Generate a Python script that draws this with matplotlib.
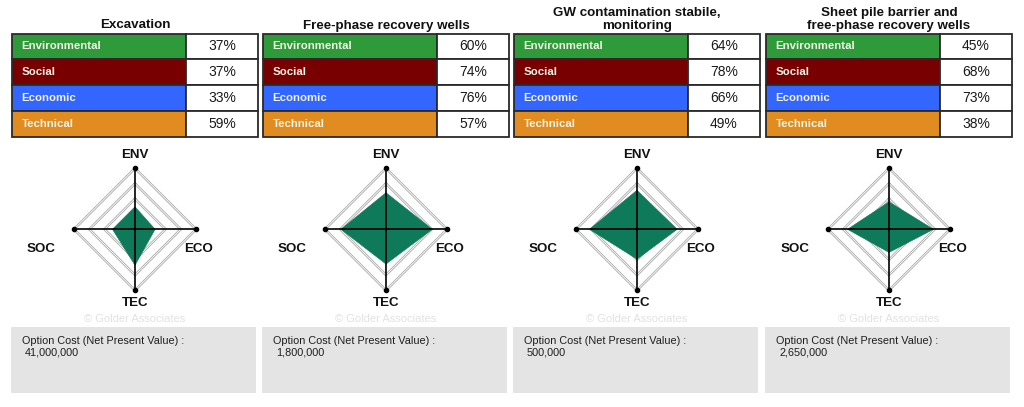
import numpy as np
import matplotlib
matplotlib.use("Agg")
from matplotlib import pyplot as plt

plt.rcParams["font.family"] = ["Liberation Sans", "DejaVu Sans"]

# data
options = [
    "Excavation",
    "Free-phase recovery wells",
    "GW contamination stabile,\nmonitoring",
    "Sheet pile barrier and\nfree-phase recovery wells",
]
criteria = ["Environmental", "Social", "Economic", "Technical"]
axis_labels = ["ENV", "SOC", "ECO", "TEC"]
environmental = [37, 60, 64, 45]
social = [37, 74, 78, 68]
economic = [33, 76, 66, 73]
technical = [59, 57, 49, 38]
costs = ["41,000,000", "1,800,000", "500,000", "2,650,000"]

crit_colors = ["#2f9a3a", "#780000", "#3366ff", "#e08c20"]
fill_color = "#0e7a5a"

W, H = 1024, 407
fig = plt.figure(figsize=(W / 100, H / 100), dpi=100)


def frac(x, y, w, h):
    return [x / W, 1 - (y + h) / H, w / W, h / H]


# angle of each criterion: ENV top, SOC left, ECO right, TEC bottom (clockwise from north)
angles = np.deg2rad([0, 270, 90, 180])
order = [0, 2, 3, 1]  # walk round the diamond
label_offsets = [(0, 9.5), (-24, -14), (1.5, -14), (0, -9.5)]

panel_x = [12, 263, 514, 766]
panel_w = 246

for i, x0 in enumerate(panel_x):
    scores = [environmental[i], social[i], economic[i], technical[i]]
    cx = x0 + panel_w / 2

    # table
    tax = fig.add_axes(frac(x0, 33.5, panel_w, 103.5))
    tax.axis("off")
    cells = [[c, "%d%%" % v] for c, v in zip(criteria, scores)]
    colours = [[c, "white"] for c in crit_colors]
    tab = tax.table(cellText=cells, cellColours=colours,
                    colWidths=[174 / 246, 72 / 246], bbox=[0, 0, 1, 1])
    tab.auto_set_font_size(False)
    for (r, c), cell in tab.get_celld().items():
        cell.set_edgecolor("#2a2a2a")
        cell.set_linewidth(1.3)
        if c == 0:
            cell._loc = "left"
            cell.PAD = 0.055
            cell.get_text().set_ha("left")
            cell.get_text().set_color("#f3f3e6")
            cell.get_text().set_fontweight("bold")
            cell.get_text().set_fontsize(8.2)
        else:
            cell._loc = "center"
            cell.get_text().set_ha("center")
            cell.get_text().set_color("#1a1a1a")
            cell.get_text().set_fontsize(10)
    tax.set_title(options[i], fontsize=9.6, fontweight="bold", pad=3.6,
                  linespacing=1.05, color="#111111")

    # radar
    R = 61
    pax = fig.add_axes(frac(cx - R, 229.3 - R, 2 * R, 2 * R), projection="polar")
    pax.set_theta_zero_location("N")
    pax.set_theta_direction(-1)
    pax.set_ylim(0, 100)
    pax.grid(False)
    pax.set_xticks([])
    pax.set_yticks([])
    pax.spines["polar"].set_visible(False)
    pax.patch.set_alpha(0)

    th = np.append(angles[order], angles[order][0])
    for ring in [25, 50, 75, 100]:
        rr = np.full(len(th), ring)
        pax.plot(th, rr, color="#a9a9a9", lw=1.8, zorder=1, clip_on=False)
        pax.plot(th, rr, color="white", lw=0.6, zorder=1.1, clip_on=False)

    vals = np.array(scores)[order]
    pax.fill(th, np.append(vals, vals[0]), color=fill_color, zorder=2, lw=0.4)

    for a in angles:
        pax.plot([a, a], [0, 100], color="black", lw=1.2, zorder=3, clip_on=False)
    pax.plot(angles, [100] * 4, "o", color="black", ms=3, zorder=4, clip_on=False)

    for a, lab, off in zip(angles, axis_labels, label_offsets):
        pax.annotate(lab, xy=(a, 100), xytext=off, textcoords="offset points",
                     ha="center", va="center", fontsize=9.6, fontweight="bold",
                     color="#111111", annotation_clip=False)

    fig.text(cx / W, 1 - 318.5 / H, "\u00a9 Golder Associates", ha="center",
             va="center", fontsize=8, color="#e2e2e2")

    # option cost box
    bax = fig.add_axes(frac(x0 - 1, 327, panel_w - 1, 66))
    bax.set_facecolor("#e4e4e4")
    bax.set_xticks([])
    bax.set_yticks([])
    for s in bax.spines.values():
        s.set_visible(False)
    bax.text(11 / (panel_w - 1), 1 - 13.5 / 66, "Option Cost (Net Present Value) :",
             transform=bax.transAxes, ha="left", va="center", fontsize=7.8,
             color="#1e1e1e")
    bax.text(14 / (panel_w - 1), 1 - 25.5 / 66, costs[i],
             transform=bax.transAxes, ha="left", va="center", fontsize=7.8,
             color="#1e1e1e")

fig.savefig("out.png", dpi=100, facecolor="white")
